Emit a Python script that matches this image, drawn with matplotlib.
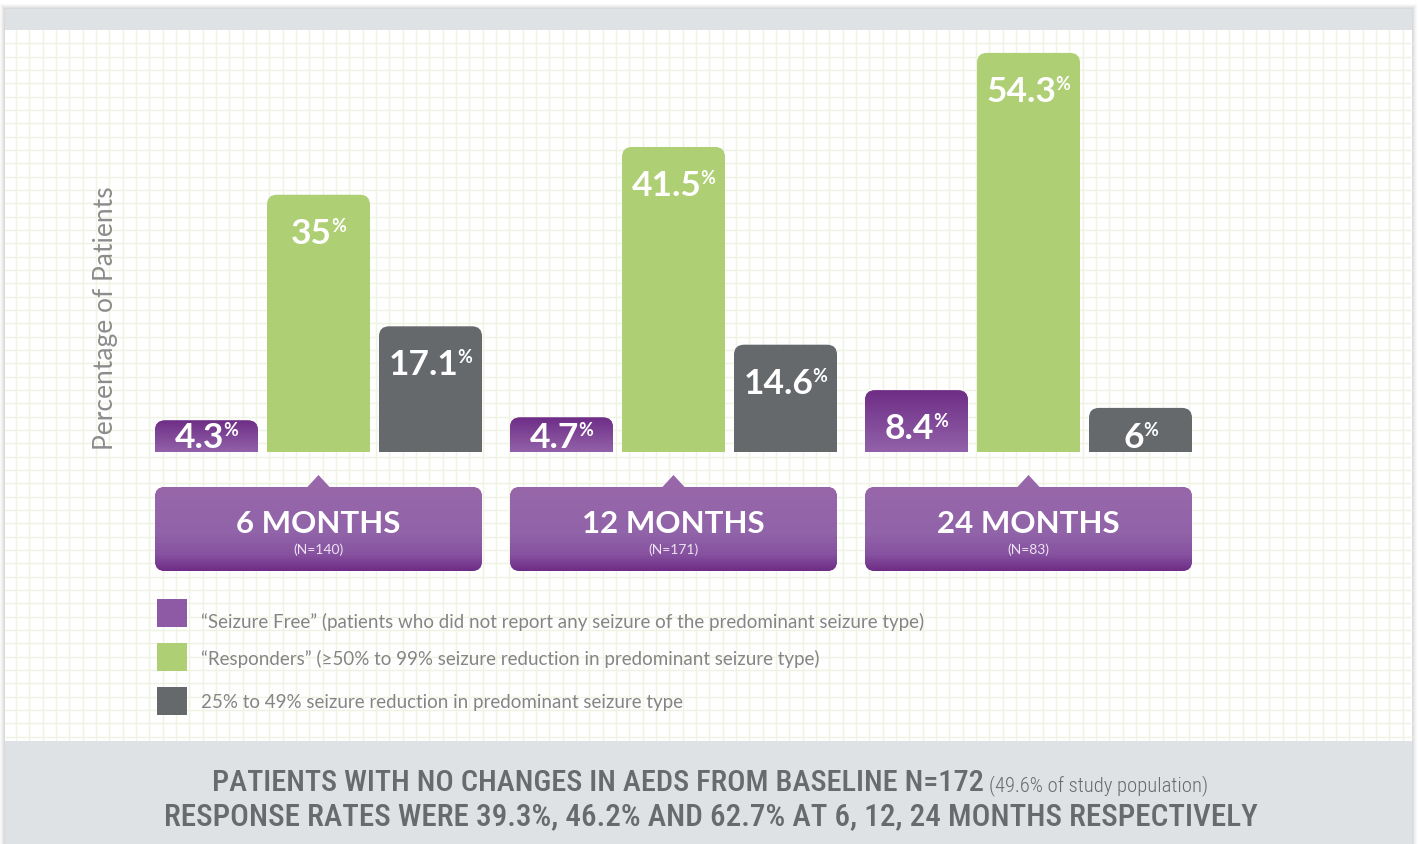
import numpy as np
import matplotlib
matplotlib.use('Agg')
import matplotlib.pyplot as plt
from matplotlib.patches import FancyBboxPatch, Rectangle, Polygon
from matplotlib.colors import LinearSegmentedColormap
from matplotlib import font_manager as fm

# ---------------- data ----------------
periods = ['6 MONTHS', '12 MONTHS', '24 MONTHS']
sample_sizes = ['(N=140)', '(N=171)', '(N=83)']
seizure_free = [4.3, 4.7, 8.4]
responders = [35, 41.5, 54.3]
partial_response = [17.1, 14.6, 6]
series_labels = [
    '\u201cSeizure Free\u201d (patients who did not report any seizure of the predominant seizure type)',
    '\u201cResponders\u201d (\u226550% to 99% seizure reduction in predominant seizure type)',
    '25% to 49% seizure reduction in predominant seizure type',
]
y_label = 'Percentage of Patients'
footer_main = 'PATIENTS WITH NO CHANGES IN AEDS FROM BASELINE N=172'
footer_note = '(49.6% of study population)'
footer_line2 = 'RESPONSE RATES WERE 39.3%, 46.2% AND 62.7% AT 6, 12, 24 MONTHS RESPECTIVELY'

# ---------------- style ----------------
PURPLE = '#8E5AA5'
PURPLE_TOP = '#6E2D86'
PURPLE_BOT = '#9262A9'
GREEN = '#AFCF75'
GRAY = '#66696C'
BAND = '#DFE2E5'
GRID = '#EEF3E2'
TEXT_GRAY = '#858585'
FOOT_GRAY = '#686B6E'
FONT = ['Lato', 'DejaVu Sans']

W, H = 1419, 845
BASE_PX = 453
PX_PER_PCT = 7.35
GROUP_PX = 355.0
G0_PX = 318.5
BAR_PX = 103.0
STEP_PX = 112.0
AX_TOP_PX = 33

fig = plt.figure(figsize=(W / 100, H / 100), dpi=100)
fig.patch.set_facecolor('white')

# background axes in pixel coordinates
bg = fig.add_axes([0, 0, 1, 1], zorder=0)
bg.set_xlim(0, W)
bg.set_ylim(H, 0)
bg.axis('off')

# soft shadow
for i, a in enumerate([0.025, 0.025, 0.03, 0.035, 0.04]):
    d = 5 - i
    bg.add_patch(Rectangle((5 - d, 10 - d), 1407 + 2 * d, 835 + 2 * d, facecolor='black',
                           alpha=a, edgecolor='none', zorder=0))
bg.add_patch(Rectangle((5, 10), 1407, 835, facecolor='white', edgecolor='none', zorder=0.5))

# grid
for x in np.arange(16, 1412, 40 / 3):
    bg.plot([x, x], [31, 742], color=GRID, lw=1.0, zorder=1)
for y in np.arange(44.3, 742, 40 / 3):
    bg.plot([5, 1412], [y, y], color=GRID, lw=1.0, zorder=1)

# bands
bg.add_patch(Rectangle((5, 10), 1407, 21, facecolor=BAND, edgecolor='none', zorder=2))
bg.add_patch(Rectangle((5, 742), 1407, 103, facecolor=BAND, edgecolor='none', zorder=2))

# y label
ylab = bg.text(106, 318, y_label, rotation=90, ha='center', va='center', fontsize=19,
               color='#8C8C8C', family=FONT, fontweight='normal', zorder=3)

# ---------------- bars ----------------
ax = fig.add_axes([0, (H - BASE_PX) / H, 1, (BASE_PX - AX_TOP_PX) / H], zorder=2)
ax.set_xlim(-G0_PX / GROUP_PX, (W - G0_PX) / GROUP_PX)
ax.set_ylim(0, (BASE_PX - AX_TOP_PX) / PX_PER_PCT)
ax.axis('off')
ax.patch.set_visible(False)

xpx = 1.0 / GROUP_PX        # x data units per pixel
ypx = 1.0 / PX_PER_PCT      # y data units per pixel
bar_w = BAR_PX * xpx
offs = STEP_PX * xpx
aspect = ypx / xpx

purple_cmap = LinearSegmentedColormap.from_list('pbar', [PURPLE_TOP, PURPLE_BOT])
grad = np.linspace(0, 1, 256).reshape(-1, 1)

series = [(seizure_free, PURPLE, -1), (responders, GREEN, 0), (partial_response, GRAY, 1)]
groups = np.arange(len(periods))

for vals, color, k in series:
    for g, v in zip(groups, vals):
        xc = g + k * offs
        x0 = xc - bar_w / 2
        patch = FancyBboxPatch((x0, -3), bar_w, v + 3,
                               boxstyle=f'round,pad=0,rounding_size={10 * xpx}',
                               mutation_aspect=aspect, facecolor=color, edgecolor='none',
                               zorder=2)
        ax.add_patch(patch)
        if color == PURPLE:
            im = ax.imshow(grad, cmap=purple_cmap, extent=(x0, x0 + bar_w, 0, v),
                           aspect='auto', origin='upper', zorder=2.5, interpolation='bilinear')
            im.set_clip_path(patch)
        ytxt = max(v - 48 * ypx, 5 * ypx)
        num = ax.annotate(f'{v:g}', xy=(xc, ytxt), xycoords='data', xytext=(-7, 0),
                          textcoords='offset pixels', ha='center', va='baseline',
                          fontsize=25.5, fontweight='bold', color='white', family=FONT,
                          zorder=4)
        ax.annotate('%', xy=(1, 1), xycoords=num, xytext=(-1, 0), textcoords='offset pixels',
                    ha='left', va='top', fontsize=13, fontweight='bold', color='white',
                    family=FONT, zorder=4)

ax.set_xlim(-G0_PX / GROUP_PX, (W - G0_PX) / GROUP_PX)
ax.set_ylim(0, (BASE_PX - AX_TOP_PX) / PX_PER_PCT)

# ---------------- period boxes ----------------
box_cmap = LinearSegmentedColormap.from_list(
    'pbox', [(0, '#9767AA'), (0.55, '#9163A8'), (0.8, '#8752A0'), (1.0, '#6E2C86')])
half_span = STEP_PX + BAR_PX / 2
for g, (lab, n) in enumerate(zip(periods, sample_sizes)):
    cx = G0_PX + g * GROUP_PX
    bx0, bx1, by0, by1 = cx - half_span, cx + half_span, 488, 572
    box = FancyBboxPatch((bx0, by0), bx1 - bx0, by1 - by0,
                         boxstyle='round,pad=0,rounding_size=10',
                         facecolor=PURPLE, edgecolor='none', zorder=3)
    bg.add_patch(box)
    im = bg.imshow(grad, cmap=box_cmap, extent=(bx0, bx1, by1, by0), aspect='auto',
                   origin='upper', zorder=3.1, interpolation='bilinear')
    im.set_clip_path(box)
    bg.add_patch(Polygon([(cx - 12, 489), (cx, 476), (cx + 12, 489)], closed=True,
                         facecolor='#9767AA', edgecolor='none', zorder=3.2))
    bg.text(cx, 533, lab, ha='center', va='baseline', fontsize=22.5, fontweight='bold',
            color='white', family=FONT, zorder=4)
    bg.text(cx, 550, n, ha='center', va='center', fontsize=10, color='#EDE3F2',
            family=FONT, zorder=4)

# ---------------- legend ----------------
leg_sq = [600, 644, 688]
leg_txt = [622, 659, 703]
for (vals, color, k), lab, ys, yt in zip(series, series_labels, leg_sq, leg_txt):
    bg.add_patch(Rectangle((157, ys), 30, 28, facecolor=color, edgecolor='none', zorder=3))
    bg.text(201, yt, lab, ha='left', va='center', fontsize=13.5, color=TEXT_GRAY,
            family=FONT, zorder=3)

bg.set_xlim(0, W)
bg.set_ylim(H, 0)

# ---------------- footer ----------------
names = {f.name for f in fm.fontManager.ttflist}
cond = [f for f in fm.fontManager.ttflist if f.stretch in ('condensed', 'semi-condensed')]
foot_family = None
for cand in ['Roboto Condensed', 'Liberation Sans Narrow', 'Open Sans Condensed']:
    if cand in names:
        foot_family = cand
        break
foot_kw = dict(color=FOOT_GRAY, zorder=4, va='baseline', fontweight='medium')
if foot_family is None and cond:
    foot_family = cond[0].name
    foot_kw['fontstretch'] = cond[0].stretch
if foot_family is None:
    foot_family = 'Roboto'

t1 = bg.text(213, 791, footer_main, ha='left', fontsize=22, family=foot_family, **foot_kw)
t1b = bg.text(990, 791, footer_note, ha='left', fontsize=12, family=foot_family,
              **dict(foot_kw, fontweight='light'))
t2 = bg.text(710.5, 825, footer_line2, ha='center', fontsize=22, family=foot_family, **foot_kw)

fig.canvas.draw()
r = fig.canvas.get_renderer()


def fit(t, target):
    w = t.get_window_extent(r).width
    t.set_fontsize(t.get_fontsize() * target / w)


fit(t1, 772)
fit(t1b, 218)
fit(t2, 1095)
fig.canvas.draw()
w1 = t1.get_window_extent(r).width
w2 = t1b.get_window_extent(r).width
left = 710.5 - (w1 + 5 + w2) / 2
t1.set_x(left)
t1b.set_x(left + w1 + 5)

fig.savefig('out.png', dpi=100, facecolor='white')
